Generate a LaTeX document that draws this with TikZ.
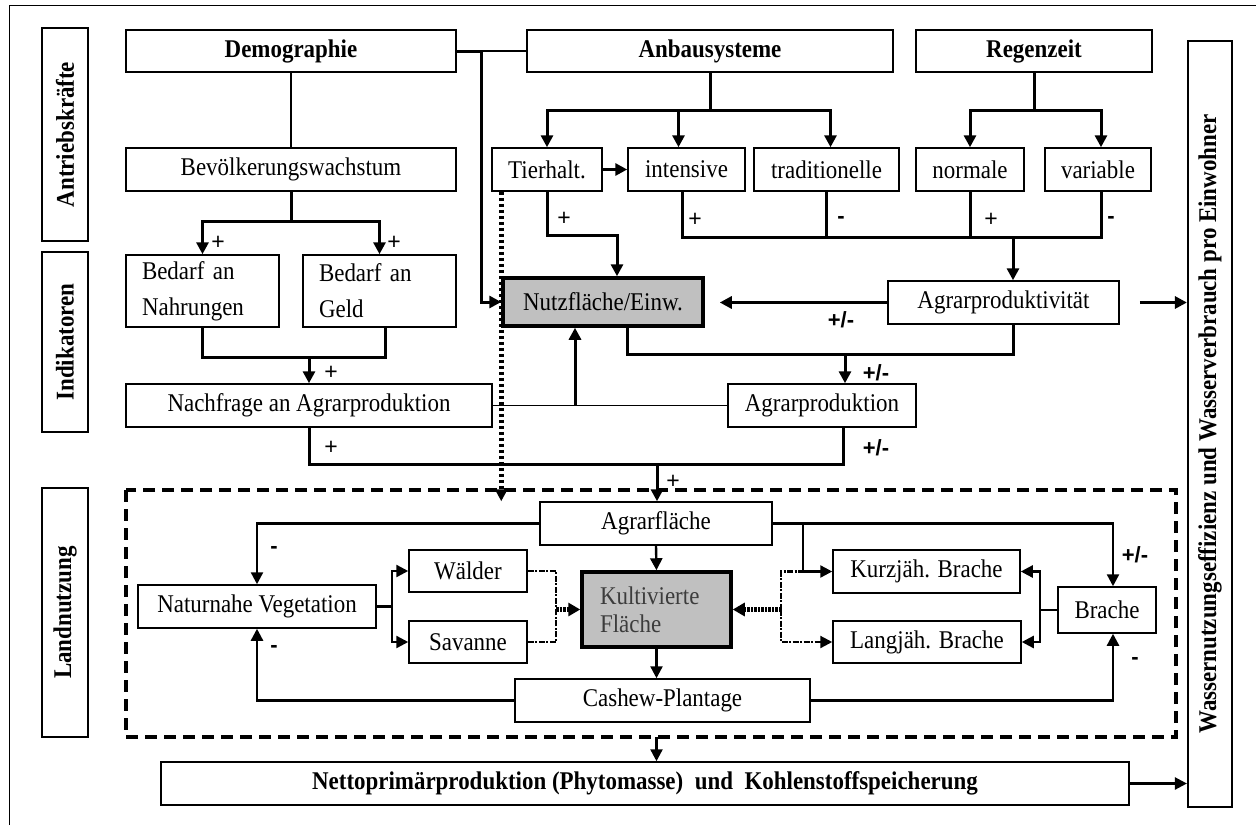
\documentclass[tikz,border=0pt]{standalone}
\usepackage{fontspec}
\setmainfont{Liberation Serif}[FakeStretch=0.9]
\newfontfamily\labfont{Liberation Sans}
\usetikzlibrary{arrows.meta}
\definecolor{boxgray}{RGB}{192,192,192}
\definecolor{kulttext}{RGB}{60,60,60}
\begin{document}
\begin{tikzpicture}[x=1pt,y=-1pt,
  box/.style={draw, line width=1.5pt, inner sep=0pt, fill=white, font=\fontsize{25.5}{30}\selectfont},
  bbox/.style={box, font=\fontsize{25.5}{30}\selectfont\bfseries},
  hbox/.style={box, line width=3.5pt, fill=boxgray},
  sidebox/.style={draw, line width=2.8pt, inner sep=0pt, rotate=90, font=\fontsize{25.5}{30}\selectfont\bfseries},
  thk/.style={line width=3pt},
  med/.style={line width=2.4pt},
  thn/.style={line width=1.2pt},
  arr/.style={-{Triangle[length=12pt,width=12pt]}},
  dotline/.style={line width=5pt, dash pattern=on 3.5pt off 2.5pt},
  dotarr/.style={line width=4.5pt, dash pattern=on 2.5pt off 1pt, -{Triangle[length=12pt,width=13pt]}},
  dashdot/.style={line width=2.2pt, dash pattern=on 6pt off 1.5pt on 2pt off 1.5pt},
  dashbox/.style={line width=4pt, dash pattern=on 12pt off 7pt},
  lab/.style={inner sep=0pt, font=\labfont\fontsize{23}{25}\selectfont},
  blab/.style={lab, font=\labfont\fontsize{22}{24}\selectfont\bfseries}
]
\useasboundingbox (0,0) rectangle (1256,825);
\draw[line width=1pt] (9,825) -- (9,5) -- (1256,5);

% dashed land-use frame
\draw[dashbox] (126,490) rectangle (1176,737);

% side boxes
\node[sidebox, minimum width=213pt, minimum height=46pt] (ant) at (65,134.5) {Antriebskräfte};
\node[sidebox, minimum width=180pt, minimum height=46pt] (ind) at (65,342) {Indikatoren};
\node[sidebox, minimum width=249pt, minimum height=46pt] (lan) at (65,612.5) {Landnutzung};
\node[sidebox, line width=2.2pt, minimum width=766pt, minimum height=44pt] (was) at (1210,424) {Wassernutzungseffizienz und Wasserverbrauch pro Einwohner};

% top row
\node[bbox, minimum width=330pt, minimum height=42pt] (demo) at (291,51) {Demographie};
\node[bbox, minimum width=366pt, minimum height=42pt] (anbau) at (710,51) {Anbausysteme};
\node[bbox, minimum width=236pt, minimum height=42pt] (regen) at (1034,51) {Regenzeit};

% second row
\node[box, minimum width=330pt, minimum height=43pt] (bev) at (291,169.5) {Bevölkerungswachstum};
\node[box, minimum width=110pt, minimum height=43pt] (tier) at (547,169.5) {Tierhalt.};
\node[box, minimum width=117pt, minimum height=43pt] (inten) at (686.5,169.5) {intensive};
\node[box, minimum width=145pt, minimum height=43pt] (trad) at (826.5,169.5) {traditionelle};
\node[box, minimum width=108pt, minimum height=43pt] (norm) at (970,169.5) {normale};
\node[box, minimum width=106pt, minimum height=43pt] (vari) at (1098,169.5) {variable};

% indicator rows
\node[box, minimum width=153pt, minimum height=72pt, inner xsep=16pt, text width=121pt, align=left, font=\fontsize{25.5}{36}\selectfont] (nahr) at (202.5,291) {Bedarf an\\Nahrungen};
\node[box, minimum width=153pt, minimum height=72pt, inner xsep=16pt, text width=121pt, align=left, font=\fontsize{25.5}{36}\selectfont] (geld) at (379.5,291) {Bedarf an\\Geld};
\node[hbox, minimum width=200pt, minimum height=48pt] (nutz) at (603,302) {Nutzfläche/Einw.};
\node[box, minimum width=231pt, minimum height=43pt] (aprod) at (1003.5,302.5) {Agrarproduktivität};
\node[box, minimum width=366pt, minimum height=43pt] (nach) at (309,405.5) {Nachfrage an Agrarproduktion};
\node[box, minimum width=188pt, minimum height=43pt] (agp) at (822,405.5) {Agrarproduktion};

% land use
\node[box, minimum width=232pt, minimum height=43pt] (agfl) at (656,523.5) {Agrarfläche};
\node[box, minimum width=238pt, minimum height=43pt] (natur) at (257,606.5) {Naturnahe Vegetation};
\node[box, minimum width=118pt, minimum height=42pt] (wald) at (468,571) {Wälder};
\node[box, minimum width=118pt, minimum height=42pt] (sav) at (468,642) {Savanne};
\node[hbox, minimum width=149pt, minimum height=75pt, inner xsep=18pt, text width=113pt, align=left, text=kulttext, font=\fontsize{25.5}{28}\selectfont] (kult) at (656.5,609.5) {Kultivierte\\Fläche};
\node[box, minimum width=187pt, minimum height=43pt] (kurz) at (926.5,571.5) {Kurzjäh. Brache};
\node[box, minimum width=188pt, minimum height=42pt] (lang) at (927,642) {Langjäh. Brache};
\node[box, minimum width=98pt, minimum height=46pt] (brache) at (1107,610) {Brache};
\node[box, minimum width=295pt, minimum height=43pt] (cash) at (662.5,700.5) {Cashew-Plantage};
\node[bbox, minimum width=968pt, minimum height=43pt] (netto) at (645,783.5) {Nettoprimärproduktion (Phytomasse)\ \ und\ \ Kohlenstoffspeicherung};

% ---- connectors: drivers
\coordinate (j1) at (481,51);
\draw[thn] (j1) -- (anbau.west);
\draw[thk,arr] (demo.east) -- (j1) |- (nutz.west);
\draw[thn] (demo.south) -- (bev.north);

\coordinate (f1) at (291,221);
\draw[thk] (bev.south) -- (f1);
\draw[thk,arr] (f1) -| (nahr.north);
\draw[thk,arr] (f1) -| (geld.north);

\coordinate (f2) at (710,110);
\draw[thk] (anbau.south) -- (f2);
\draw[thk,arr] (f2) -| (tier.north);
\draw[thk,arr] (f2) -| ([xshift=-8pt]inten.north);
\draw[thk,arr] (f2) -| ([xshift=4pt]trad.north);

\coordinate (f3) at (1034,110);
\draw[thk] (regen.south) -- (f3);
\draw[thk,arr] (f3) -| (norm.north);
\draw[thk,arr] (f3) -| ([xshift=3pt]vari.north);

\draw[thk,arr] (tier.east) -- (inten.west);
\draw[thk,arr] (tier.south) -- ++(0,44) -| ([xshift=14pt]nutz.north);

\coordinate (f4) at (1013,237);
\draw[thk] ([xshift=-4.5pt]inten.south) |- (f4);
\draw[thk] (trad.south) |- (f4);
\draw[thk] (norm.south) |- (f4);
\draw[thk] ([xshift=3pt]vari.south) |- (f4);
\draw[thk,arr] (f4) -- (f4 |- aprod.north);

% ---- indicators
\coordinate (f5) at (309,357);
\draw[thk] (nahr.south) |- (f5);
\draw[thk] ([xshift=6pt]geld.south) |- (f5);
\draw[thk,arr] (f5) -- (nach.north);

\draw[thn] (nach.east) -- (agp.west);
\coordinate (f6) at (575,405.5);
\draw[thk,arr] (f6) -- (f6 |- nutz.south);

\draw[thk,arr,shorten >=15pt] (aprod.west) -- (aprod.west -| nutz.east);
\draw[thk,arr,shorten <=20pt] (aprod.east) -- (aprod.east -| was.north);

\coordinate (f7) at (845,354);
\draw[thk] ([xshift=24pt]nutz.south) |- (f7);
\draw[thk] ([xshift=9.5pt]aprod.south) |- (f7);
\draw[thk,arr] (f7) -- (f7 |- agp.north);

\coordinate (f8) at (657,464);
\draw[thk] (nach.south) |- (f8);
\draw[thk] ([xshift=21pt]agp.south) |- (f8);
\draw[thk,arr] (f8) -- (f8 |- agfl.north);

\draw[dotline,arr] (tier.south -| nutz.west) -- (nutz.west |- agfl.north);

% ---- land use
\draw[med,arr] (agfl.west) -| (natur.north);
\draw[med,arr] (cash.west) -| (natur.south);
\coordinate (f9) at (392,606.5);
\draw[med] (natur.east) -- (f9);
\draw[med,arr] (f9) |- (wald.west);
\draw[med,arr] (f9) |- (sav.west);
\coordinate (f10) at (556,609.5);
\draw[dashdot] (wald.east) -| (f10);
\draw[dashdot] (sav.east) -| (f10);
\draw[dotarr] (f10) -- (kult.west);
\draw[med,arr] (agfl.south) -- (kult.north);
\draw[med,arr] (kult.south) -- (kult.south |- cash.north);

\draw[med,arr] (agfl.east) -| ([xshift=6pt]brache.north);
\coordinate (f11) at (803,523.5);
\draw[med,arr] (f11) |- (kurz.west);
\coordinate (f12) at (781,609.5);
\draw[dashdot] (f12) |- (f11 |- kurz.west);
\draw[dashdot,arr] (f12) |- (lang.west);
\draw[dotarr] (f12) -- (kult.east);
\coordinate (f13) at (1040,610);
\draw[med] (brache.west) -- (f13);
\draw[med,arr] (f13) |- (kurz.east);
\draw[med,arr] (f13) |- (lang.east);
\draw[med,arr] (cash.east) -| ([xshift=6pt]brache.south);

\coordinate (f14) at (656.5,737);
\draw[med,arr] (f14) -- (f14 |- netto.north);
\draw[med,arr] (netto.east) -- (netto.east -| was.north);

% ---- labels
\node[lab] (l1) at (218,243) {+};
\node[lab] (l2) at (394,243) {+};
\node[lab] (l3) at (564,219) {+};
\node[lab] (l4) at (695,220) {+};
\node[blab] (l5) at (841,220) {-};
\node[lab] (l6) at (991,220) {+};
\node[blab] (l7) at (1111,220) {-};
\node[blab] (l8) at (841,320) {+/-};
\node[lab] (l9) at (331,373) {+};
\node[blab] (l10) at (876,373) {+/-};
\node[lab] (l11) at (331,448) {+};
\node[blab] (l12) at (876,448) {+/-};
\node[lab] (l13) at (673,482) {+};
\node[blab] (l14) at (274,550) {-};
\node[blab] (l15) at (274,649) {-};
\node[blab] (l16) at (1135,555) {+/-};
\node[blab] (l17) at (1135,661) {-};
\end{tikzpicture}
\end{document}
